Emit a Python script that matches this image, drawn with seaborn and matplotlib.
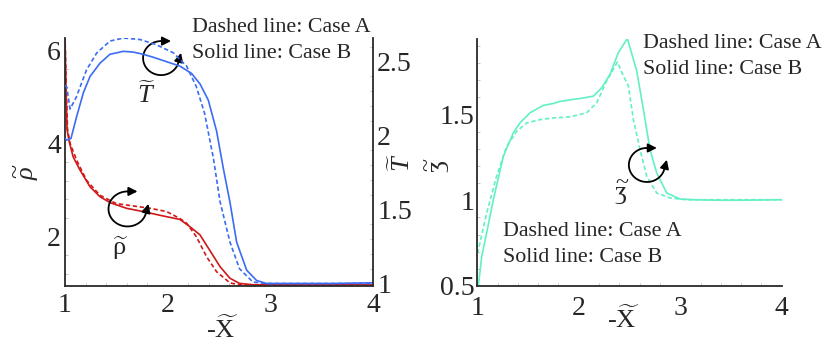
import numpy as np
import pandas as pd
import matplotlib
matplotlib.use("Agg")
import matplotlib.pyplot as plt
from matplotlib.transforms import ScaledTranslation
from matplotlib.ticker import MultipleLocator
import seaborn as sns

# ---- data ----
# left panel, temperature (right axis)
x_T_A = [1.0, 1.016, 1.05, 1.11, 1.21, 1.31, 1.44, 1.57, 1.73, 1.89, 2.055, 2.185,
         2.28, 2.36, 2.445, 2.51, 2.607, 2.7, 2.83, 2.96, 3.2, 3.6, 4.0]
T_A = [2.34, 2.33, 2.18, 2.26, 2.445, 2.56, 2.64, 2.66, 2.65, 2.615, 2.56, 2.47,
       2.33, 2.15, 1.85, 1.555, 1.28, 1.10, 1.01, 1.0, 1.0, 1.0, 1.0]
x_T_B = [1.0, 1.016, 1.058, 1.114, 1.179, 1.244, 1.341, 1.438, 1.568, 1.666, 1.763,
         1.86, 1.99, 2.12, 2.234, 2.315, 2.396, 2.477, 2.542, 2.607, 2.672, 2.77,
         2.867, 2.964, 3.2, 3.6, 4.0]
T_B = [1.98, 1.97, 1.98, 2.13, 2.29, 2.40, 2.49, 2.55, 2.57, 2.565, 2.55, 2.53, 2.50,
       2.47, 2.42, 2.35, 2.24, 2.03, 1.78, 1.55, 1.28, 1.09, 1.02, 1.0, 1.0, 1.0, 1.005]

# left panel, density (left axis)
x_r_A = [1.0, 1.012, 1.025, 1.05, 1.114, 1.21, 1.34, 1.5, 1.666, 1.83, 1.99, 2.12,
         2.185, 2.28, 2.38, 2.477, 2.607, 2.7, 3.0, 3.5, 4.0]
r_A = [6.3, 5.2, 4.3, 4.0, 3.64, 3.21, 2.89, 2.71, 2.66, 2.61, 2.54, 2.39, 2.29, 2.0,
       1.57, 1.25, 1.01, 0.97, 0.97, 0.97, 0.97]
x_r_B = [1.0, 1.01, 1.02, 1.04, 1.08, 1.146, 1.244, 1.34, 1.44, 1.6, 1.76, 1.925,
         2.12, 2.22, 2.315, 2.41, 2.51, 2.607, 2.7, 2.83, 3.0, 3.5, 4.0]
r_B = [6.3, 5.2, 4.3, 4.05, 3.71, 3.43, 3.07, 2.86, 2.73, 2.61, 2.54, 2.46, 2.37,
       2.21, 2.04, 1.71, 1.36, 1.11, 1.0, 0.97, 0.97, 0.97, 0.97]

# right panel
x_z_A = [1.0, 1.01, 1.092, 1.19, 1.29, 1.39, 1.486, 1.618, 1.75, 1.913, 2.078, 2.176,
         2.275, 2.34, 2.38, 2.44, 2.489, 2.538, 2.604, 2.67, 2.768, 2.9, 3.06, 4.0]
z_A = [0.69, 0.71, 0.925, 1.14, 1.315, 1.403, 1.451, 1.47, 1.48, 1.486, 1.51, 1.568,
       1.695, 1.763, 1.806, 1.724, 1.666, 1.471, 1.295, 1.139, 1.042, 1.013, 1.003, 1.003]
x_z_B = [1.01, 1.043, 1.092, 1.158, 1.256, 1.355, 1.42, 1.52, 1.65, 1.75, 1.815,
         1.946, 2.045, 2.144, 2.226, 2.308, 2.39, 2.479, 2.571, 2.637, 2.702, 2.768,
         2.867, 2.998, 3.13, 3.39, 3.59, 4.0]
z_B = [0.5, 0.672, 0.81, 1.003, 1.256, 1.393, 1.451, 1.51, 1.553, 1.564, 1.576, 1.588,
       1.596, 1.607, 1.656, 1.734, 1.861, 1.943, 1.753, 1.529, 1.295, 1.159, 1.042,
       1.007, 1.003, 1.0, 1.0, 1.003]

x_ticks = [1, 2, 3, 4]
rho_ticks = [2, 4, 6]
T_ticks = [1, 1.5, 2, 2.5]
z_ticks = [0.5, 1, 1.5]

legend_lines = ["Dashed line: Case A", "Solid line: Case B"]

BLUE = "#3a6cf4"
RED = "#d01818"
TEAL = "#62f0c6"
DASH = (0, (2.6, 1.6))

sns.set_theme(style="white")
plt.rcParams["font.family"] = ["Liberation Serif", "DejaVu Serif"]
plt.rcParams["mathtext.fontset"] = "custom"
plt.rcParams["mathtext.rm"] = "Liberation Serif"
plt.rcParams["mathtext.it"] = "Liberation Serif:italic"

fig = plt.figure(figsize=(8.31, 3.47), dpi=100)
axL = fig.add_axes([0.0782, 0.1766, 0.3706, 0.7138])
axT = axL.twinx()
axR = fig.add_axes([0.5744, 0.1758, 0.3663, 0.7118])


def line(ax, x, y, color, ls):
    d = pd.DataFrame({"x": x, "y": y})
    sns.lineplot(data=d, x="x", y="y", ax=ax, color=color, lw=1.2,
                 linestyle=ls, sort=False, estimator=None)


line(axL, x_r_A, r_A, RED, DASH)
line(axL, x_r_B, r_B, RED, "-")
line(axT, x_T_A, T_A, BLUE, DASH)
line(axT, x_T_B, T_B, BLUE, "-")
line(axR, x_z_A, z_A, TEAL, DASH)
line(axR, x_z_B, z_B, TEAL, "-")

axL.set_xlim(1, 4)
axL.set_ylim(0.95, 6.26)
axT.set_ylim(0.985, 2.66)
axR.set_xlim(1, 4)
axR.set_ylim(0.5, 1.94)

for ax in (axL, axT, axR):
    ax.set_xlabel("")
    ax.set_ylabel("")
    ax.grid(False)
    for s in ax.spines.values():
        s.set_color("#2a2a2a")
        s.set_linewidth(1.3)
    ax.spines["top"].set_visible(False)

axL.spines["right"].set_visible(False)
axR.spines["right"].set_visible(False)
axT.spines["left"].set_visible(False)
axT.spines["bottom"].set_visible(False)

axL.set_xticks(x_ticks)
axL.set_yticks(rho_ticks)
axT.set_yticks(T_ticks)
axT.set_yticklabels(["1", "1.5", "2", "2.5"])
axR.set_xticks(x_ticks)
axR.set_yticks(z_ticks)
axR.set_yticklabels(["0.5", "1", "1.5"])

for ax in (axL, axR):
    ax.xaxis.set_minor_locator(MultipleLocator(0.2))
axL.tick_params(axis="x", which="major", labelsize=20, pad=5, length=0)
axR.tick_params(axis="x", which="major", labelsize=20, pad=7, length=0)
axL.yaxis.set_minor_locator(MultipleLocator(0.4))
axT.yaxis.set_minor_locator(MultipleLocator(0.1))
axR.yaxis.set_minor_locator(MultipleLocator(0.1))
axL.tick_params(axis="y", which="major", labelsize=20, pad=3, length=0)
axT.tick_params(axis="y", which="major", labelsize=20, pad=3, length=0)
axR.tick_params(axis="y", which="major", labelsize=20, pad=2, length=0)
for ax in (axL, axT, axR):
    ax.tick_params(which="minor", direction="in", length=2.5, width=0.6,
                   color="#bbbbbb")
axT.tick_params(which="minor", right=True, left=False, bottom=False)
axL.tick_params(which="minor", bottom=True, left=True)
axR.tick_params(which="minor", bottom=True, left=True)

# axis labels
axL.text(0.51, -0.175, r"-$\widetilde{\mathrm{X}}$", transform=axL.transAxes,
         ha="center", va="center", fontsize=19)
axR.text(0.479, -0.135, r"-$\widetilde{\mathrm{X}}$", transform=axR.transAxes,
         ha="center", va="center", fontsize=19)
axL.text(-0.123, 0.46, r"$\widetilde{\rho}$", transform=axL.transAxes,
         ha="center", va="center", rotation=90, fontsize=19)
axL.text(1.094, 0.495, r"$\widetilde{T}$", transform=axL.transAxes,
         ha="center", va="center", rotation=90, fontsize=19)
axR.text(-0.129, 0.49, r"$\widetilde{\mathrm{ʒ}}$", transform=axR.transAxes,
         ha="center", va="center", rotation=90, fontsize=19)

# curve labels
axL.text(0.263, 0.77, r"$\widetilde{T}$", transform=axL.transAxes,
         ha="center", va="center", fontsize=19)
axL.text(0.179, 0.152, r"$\widetilde{\mathrm{\rho}}$", transform=axL.transAxes,
         ha="center", va="center", fontsize=19)
axR.text(0.475, 0.376, r"$\widetilde{\mathrm{ʒ}}$", transform=axR.transAxes,
         ha="center", va="center", fontsize=19)


def rot_arrow(ax, cx, cy, rx=0.18, ry=0.17):
    # open loop with a head at each end, sized in inches around an axes point
    tr = fig.dpi_scale_trans + ScaledTranslation(cx, cy, ax.transAxes)
    th = np.radians(np.linspace(90, 345, 80))
    xs, ys = rx * np.cos(th), ry * np.sin(th)
    ax.plot(xs, ys, transform=tr, color="black", lw=1.3, clip_on=False)
    head = 0.1
    ends = [((xs[0], ys[0]), (1.0, 0.0)),
            ((xs[-1], ys[-1]), (-np.sin(th[-1]), np.cos(th[-1])))]
    for (x0, y0), (dx, dy) in ends:
        ax.annotate("", xy=(x0 + head * dx, y0 + head * dy), xytext=(x0, y0),
                    xycoords=tr, textcoords=tr,
                    arrowprops=dict(arrowstyle="-|>", color="black", lw=1.3,
                                    mutation_scale=13, shrinkA=0, shrinkB=0))


rot_arrow(axL, 0.312, 0.919)
rot_arrow(axL, 0.203, 0.31, rx=0.19, ry=0.175)
rot_arrow(axR, 0.557, 0.49)

# case notes
for (px, py) in [(192, 28), (643, 43), (503, 232)]:
    for k, t in enumerate(legend_lines):
        fig.text(px / 831, 1 - (py + 26 * k) / 347, t, ha="left", va="center",
                 fontsize=15.8)

fig.savefig("out.png", dpi=100)
